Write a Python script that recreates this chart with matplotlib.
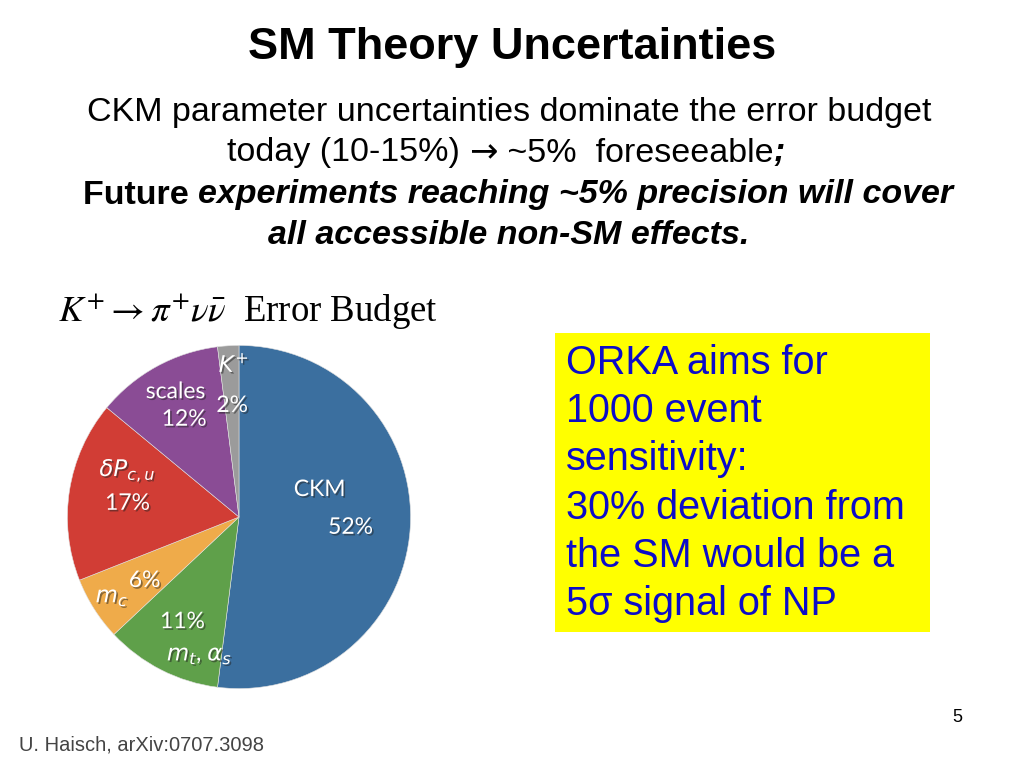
import matplotlib
matplotlib.use("Agg")
import matplotlib.pyplot as plt
import matplotlib.patheffects as pe

W, H = 1024, 768

# pie data (clockwise from top)
labels = ["CKM", "mt_as", "mc", "dP", "scales", "K+"]
shares = [52, 11, 6, 17, 12, 2]
colors = ["#3b6f9f", "#5fa04a", "#efab4a", "#d13d35", "#8a4c95", "#9b9b9b"]

box_lines = ["ORKA aims for", "1000 event", "sensitivity:",
             "30% deviation from", "the SM would be a", "5\u03c3 signal of NP"]

plt.rcParams['font.family'] = ['Liberation Sans', 'DejaVu Sans']
fig = plt.figure(figsize=(W / 100, H / 100), dpi=100)


def fx(px):
    return px / W


def fy(py):
    return 1 - py / H


def segments(parts, cx, cy, size):
    # draw several styled pieces on one line, centred on cx
    r = fig.canvas.get_renderer()
    objs = []
    total = 0
    for s, wgt, sty, fam in parts:
        t = fig.text(0, fy(cy), s, fontsize=size, fontweight=wgt, fontstyle=sty,
                     family=fam, va='center', ha='left')
        w = t.get_window_extent(r).width
        objs.append((t, w))
        total += w
    x = cx - total / 2
    for t, w in objs:
        t.set_x(fx(x))
        x += w


sans = 'Liberation Sans'
fig.text(0.5, fy(48), "SM Theory Uncertainties", fontsize=32.5, fontweight='bold',
         ha='center', va='center')
fig.text(fx(509), fy(112), "CKM parameter uncertainties dominate the error budget",
         fontsize=24.5, ha='center', va='center')
segments([("today (10-15%) ", 'normal', 'normal', sans),
          ("\u2192", 'normal', 'normal', 'DejaVu Sans'),
          (" ~5%  foreseeable", 'normal', 'normal', sans),
          (";", 'bold', 'italic', sans)], 506, 153, 24.5)
segments([("Future ", 'bold', 'normal', sans),
          ("experiments reaching ~5% precision will cover", 'bold', 'italic', sans)],
         518, 195, 24.5)
fig.text(fx(509), fy(236), "all accessible non-SM effects.", fontsize=24.5,
         fontweight='bold', fontstyle='italic', ha='center', va='center')

fig.text(fx(58), fy(312), r"$K^{+} \rightarrow \pi^{+}\nu\bar{\nu}$  Error Budget",
         fontsize=26.5, family='Liberation Serif', math_fontfamily='stix',
         ha='left', va='center')

# pie
cx, cy, rad = 239, 517, 175
ax = fig.add_axes([fx(cx - rad), fy(cy + rad), 2 * rad / W, 2 * rad / H])
ax.pie(shares, colors=colors, startangle=90, counterclock=False, radius=1,
       wedgeprops=dict(edgecolor='#e0e0e0', linewidth=0.4))
ax.set_xlim(-1.02, 1.02)
ax.set_ylim(-1.02, 1.02)
ax.set_aspect('equal')
ax.axis('off')

pie_texts = [
    ("CKM", 0.47, 0.16), ("52%", 0.65, -0.06),
    ("scales", -0.37, 0.73), ("12%", -0.32, 0.57),
    (r"$K^{+}$", -0.03, 0.89), ("2%", -0.04, 0.65),
    (r"$\delta P_{c,u}$", -0.65, 0.27), ("17%", -0.65, 0.08),
    ("6%", -0.55, -0.37), (r"$m_{c}$", -0.74, -0.47),
    ("11%", -0.33, -0.61), (r"$m_{t}$, $\alpha_{s}$", -0.23, -0.81),
]
for s, x, y in pie_texts:
    t = ax.text(x, y, s, color='white', fontsize=16.5, family='Lato',
                math_fontfamily='dejavusans', ha='center', va='center')
    t.set_path_effects([pe.SimplePatchShadow(offset=(1.2, -1.2), shadow_rgbFace='#222222', alpha=0.5),
                        pe.Normal()])

# yellow box
bx0, by0, bx1, by1 = 555, 333, 930, 632
fig.patches.append(plt.Rectangle((fx(bx0), fy(by1)), (bx1 - bx0) / W, (by1 - by0) / H,
                                 transform=fig.transFigure, facecolor='#ffff00',
                                 edgecolor='none', zorder=0))
for i, line in enumerate(box_lines):
    fig.text(fx(566), fy(363 + i * 48.2), line, fontsize=28.5, color='#0c0cc8',
             ha='left', va='center')

fig.text(fx(957), fy(718), "5", fontsize=13, ha='center', va='center')
fig.text(fx(19), fy(745), "U. Haisch, arXiv:0707.3098", fontsize=14.5, color='#444444',
         ha='left', va='center')

fig.savefig("out.png", dpi=100, facecolor='white')
